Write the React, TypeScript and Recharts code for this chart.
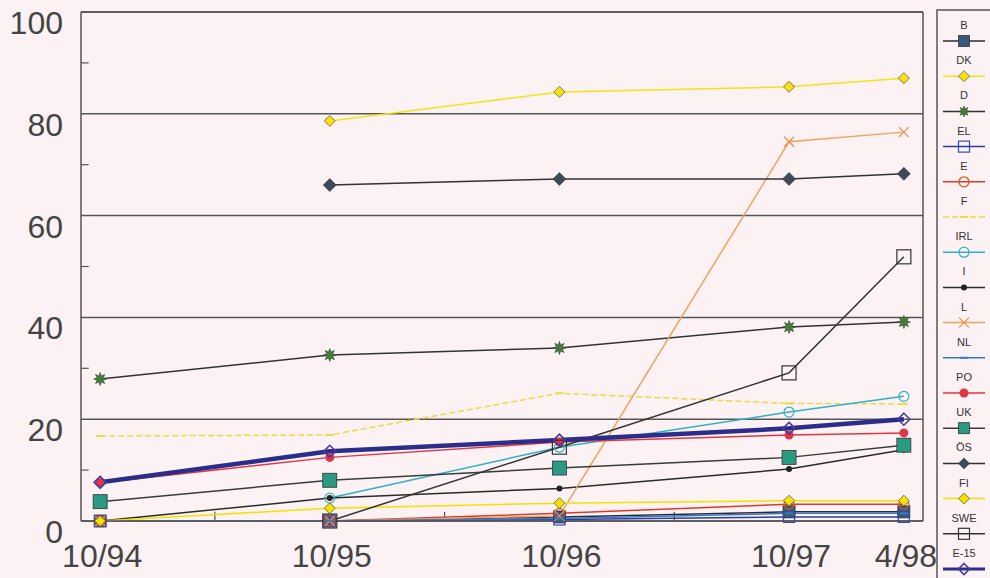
import React from 'react';
import { LineChart, Line, XAxis, YAxis, CartesianGrid, ReferenceLine } from 'recharts';

const months = [0, 12, 24, 36, 42];
const tickLabels = ['10/94', '10/95', '10/96', '10/97', '4/98'];
const yTicks = [0, 20, 40, 60, 80, 100];

const B = [0, 0, 0.8, 1.8, 1.8];
const DK = [null, 78.6, 84.3, 85.3, 87];
const D = [27.9, 32.6, 34, 38.1, 39.1];
const EL = [0, 0, 0.3, 0.8, 0.8];
const E = [0, 0, 1.5, 3.3, 3.3];
const F = [16.7, 16.9, 25.1, 23.1, 23];
const IRL = [null, 4.5, 14.5, 21.4, 24.5];
const I = [0, 4.5, 6.4, 10.2, 14];
const L = [0, 0, 1, 74.5, 76.4];
const NL = [0, 0, 0.5, 1.5, 1.5];
const PO = [7.5, 12.5, 15.5, 16.9, 17.3];
const UK = [3.8, 8, 10.4, 12.5, 14.9];
const OS = [null, 66, 67.2, 67.2, 68.2];
const FI = [0, 2.5, 3.5, 4, 4];
const SWE = [null, 0, 14.5, 29.1, 51.9];
const E15 = [7.6, 13.7, 15.9, 18.2, 20];

type S = { key: string; name: string; values: (number | null)[]; line: string; mark: string; shape: string; width?: number; dash?: string; size: number };

const series: S[] = [
  { key: 'B', name: 'B', values: B, line: '#2b2b35', mark: '#355a7a', shape: 'square', size: 12 },
  { key: 'DK', name: 'DK', values: DK, line: '#f3e21a', mark: '#f7e210', shape: 'diamond', size: 11 },
  { key: 'D', name: 'D', values: D, line: '#333333', mark: '#477a3c', shape: 'star', size: 13 },
  { key: 'EL', name: 'EL', values: EL, line: '#2a3d9a', mark: '#3050b0', shape: 'openSquare', size: 11 },
  { key: 'E', name: 'E', values: E, line: '#d83a2a', mark: '#e05020', shape: 'openCircle', size: 10 },
  { key: 'F', name: 'F', values: F, line: '#f0d840', mark: '#f0d840', shape: 'dash', size: 8, dash: '6 3' },
  { key: 'IRL', name: 'IRL', values: IRL, line: '#30b0c8', mark: '#30b0c8', shape: 'openCircle', size: 10 },
  { key: 'I', name: 'I', values: I, line: '#2a2a2a', mark: '#222222', shape: 'dot', size: 6 },
  { key: 'L', name: 'L', values: L, line: '#f0a060', mark: '#f09050', shape: 'x', size: 10 },
  { key: 'NL', name: 'NL', values: NL, line: '#3a7ac8', mark: '#3a7ac8', shape: 'dash', size: 8 },
  { key: 'PO', name: 'PO', values: PO, line: '#e03545', mark: '#e03545', shape: 'circle', size: 9 },
  { key: 'UK', name: 'UK', values: UK, line: '#3a3a3a', mark: '#2a9a82', shape: 'square', size: 14 },
  { key: 'OS', name: 'ÖS', values: OS, line: '#333333', mark: '#3d4a5a', shape: 'diamond', size: 13 },
  { key: 'FI', name: 'FI', values: FI, line: '#f5e000', mark: '#f5e000', shape: 'diamond', size: 11 },
  { key: 'SWE', name: 'SWE', values: SWE, line: '#333333', mark: '#333333', shape: 'openSquare', size: 14 },
  { key: 'E15', name: 'E-15', values: E15, line: '#2a2e8a', mark: '#4a3aa0', shape: 'openDiamond', size: 12, width: 4.5 },
];

const data = months.map((m, i) => {
  const row: any = { m };
  series.forEach((s) => { row[s.key] = s.values[i]; });
  return row;
});

function Marker({ shape, cx, cy, size, color }: { shape: string; cx: number; cy: number; size: number; color: string }) {
  const h = size / 2;
  switch (shape) {
    case 'square':
      return <rect x={cx - h} y={cy - h} width={size} height={size} fill={color} stroke="#333" strokeWidth={0.8} />;
    case 'openSquare':
      return <rect x={cx - h} y={cy - h} width={size} height={size} fill="none" stroke={color} strokeWidth={1.2} />;
    case 'diamond':
      return <polygon points={`${cx},${cy - h} ${cx + h},${cy} ${cx},${cy + h} ${cx - h},${cy}`} fill={color} stroke="#333" strokeWidth={0.6} />;
    case 'openDiamond':
      return <polygon points={`${cx},${cy - h} ${cx + h},${cy} ${cx},${cy + h} ${cx - h},${cy}`} fill="none" stroke={color} strokeWidth={1.6} />;
    case 'openCircle':
      return <circle cx={cx} cy={cy} r={h} fill="none" stroke={color} strokeWidth={1.2} />;
    case 'circle':
      return <circle cx={cx} cy={cy} r={h} fill={color} />;
    case 'dot':
      return <circle cx={cx} cy={cy} r={h} fill={color} />;
    case 'x':
      return (
        <g stroke={color} strokeWidth={1.3}>
          <line x1={cx - h} y1={cy - h} x2={cx + h} y2={cy + h} />
          <line x1={cx - h} y1={cy + h} x2={cx + h} y2={cy - h} />
        </g>
      );
    case 'dash':
      return <line x1={cx - h} y1={cy} x2={cx + h} y2={cy} stroke={color} strokeWidth={2} />;
    case 'star': {
      const pts: string[] = [];
      for (let k = 0; k < 16; k++) {
        const r = k % 2 === 0 ? h : h * 0.5;
        const a = (Math.PI * k) / 8;
        pts.push(`${cx + r * Math.sin(a)},${cy - r * Math.cos(a)}`);
      }
      return <polygon points={pts.join(' ')} fill={color} stroke="#2a4a2a" strokeWidth={0.6} />;
    }
    default:
      return null;
  }
}

const makeDot = (s: S) => (props: any) => {
  const { cx, cy, index, value } = props;
  if (value == null || cx == null || cy == null || isNaN(cy)) return <g key={`${s.key}-${index}`} />;
  return (
    <g key={`${s.key}-${index}`}>
      <Marker shape={s.shape} cx={cx} cy={cy} size={s.size} color={s.mark} />
    </g>
  );
};

const FONT = '"Liberation Sans", Arial, sans-serif';

const YTick = (props: any) => {
  const { y, payload } = props;
  return (
    <text x={63} y={y + 11} textAnchor="end" dominantBaseline="central" fontSize={32} fill="#444444" fontFamily={FONT}>
      {payload.value}
    </text>
  );
};

const XTick = (props: any) => {
  const { x, payload } = props;
  const i = months.indexOf(payload.value);
  return (
    <text x={x + 2} y={556} textAnchor="middle" dominantBaseline="central" fontSize={32} fill="#444444" fontFamily={FONT}>
      {tickLabels[i]}
    </text>
  );
};

const AX = '#555555';

function LegendBox() {
  const x0 = 943, x1 = 985, cx = 964;
  return (
    <svg width={990} height={578} style={{ position: 'absolute', left: 0, top: 0, pointerEvents: 'none' }}>
      <rect x={937} y={10} width={70} height={600} fill="none" stroke={AX} strokeWidth={1.5} />
      {series.map((s, i) => {
        const ly = 25 + i * 35.2;
        const sy = ly + 16;
        return (
          <g key={s.key}>
            <text x={cx} y={ly} textAnchor="middle" dominantBaseline="central" fontSize={11} fill="#333" fontFamily={FONT}>
              {s.name}
            </text>
            <line x1={x0} y1={sy} x2={x1} y2={sy} stroke={s.line} strokeWidth={s.width ? 3 : 1.5} strokeDasharray={s.dash} />
            <Marker shape={s.shape} cx={cx} cy={sy} size={Math.min(s.size, 11)} color={s.mark} />
          </g>
        );
      })}
    </svg>
  );
}

export default function App() {
  return (
    <div style={{ position: 'absolute', left: 0, top: 0, width: 990, height: 578, background: '#fcf2f4', overflow: 'hidden' }}>
      <LineChart width={990} height={578} data={data} margin={{ top: 12, right: 67, left: 0, bottom: 0 }}>
        <CartesianGrid vertical={false} stroke={AX} strokeWidth={1.5} strokeOpacity={1} />
        <XAxis
          dataKey="m"
          type="number"
          domain={[-1, 43]}
          ticks={months}
          tick={<XTick />}
          tickLine={false}
          axisLine={{ stroke: AX, strokeWidth: 1.5 }}
          height={57}
          interval={0}
        />
        <YAxis
          type="number"
          domain={[0, 100]}
          ticks={yTicks}
          tick={<YTick />}
          tickLine={false}
          axisLine={{ stroke: AX, strokeWidth: 1.5 }}
          width={81}
        />
        <ReferenceLine x={43} stroke={AX} strokeWidth={1.5} />
        <ReferenceLine y={100} stroke={AX} strokeWidth={1.5} />
        {[10, 30, 50, 70, 90].map((v) => (
          <ReferenceLine key={`yt${v}`} segment={[{ x: -1, y: v }, { x: -0.6, y: v }]} stroke={AX} strokeWidth={1.2} />
        ))}
        {[6, 18, 30].map((v) => (
          <ReferenceLine key={`xt${v}`} segment={[{ x: v, y: 0 }, { x: v, y: 1.8 }]} stroke={AX} strokeWidth={1.2} />
        ))}
        {series.map((s) => (
          <Line
            key={s.key}
            dataKey={s.key}
            name={s.name}
            type="linear"
            stroke={s.line}
            strokeWidth={s.width || 1.5}
            strokeDasharray={s.dash}
            dot={makeDot(s)}
            activeDot={false}
            connectNulls={false}
            isAnimationActive={false}
          />
        ))}
      </LineChart>
      <LegendBox />
    </div>
  );
}
